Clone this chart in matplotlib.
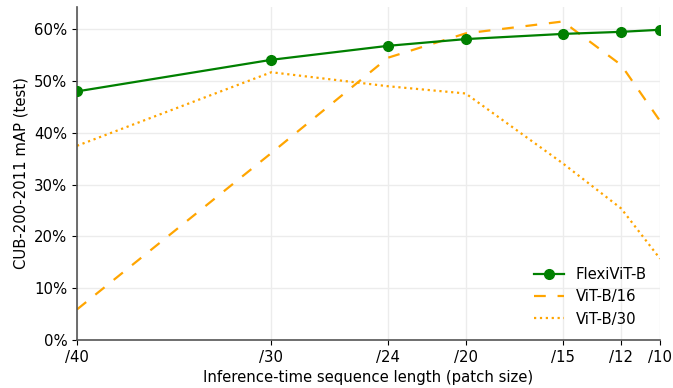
import matplotlib.pyplot as plt
from matplotlib.ticker import PercentFormatter

plt.rcParams['font.size'] = 10.7

# patch sizes at inference time
patch_sizes = [40, 30, 24, 20, 15, 12, 10]
tick_labels = ['/40', '/30', '/24', '/20', '/15', '/12', '/10']

# mAP (%) on CUB-200-2011
flexivit_b = [48.0, 54.1, 56.8, 58.1, 59.1, 59.5, 59.9]
vit_b16 = [5.9, 36.1, 54.5, 59.2, 61.5, 53.1, 42.3]
vit_b30 = [37.5, 51.7, 49.0, 47.6, 34.1, 25.4, 15.7]

fig = plt.figure(figsize=(6.73, 3.88), dpi=100)
ax = fig.add_axes([0.1144, 0.1237, 0.8663, 0.8583])

ax.plot(patch_sizes, flexivit_b, color='green', marker='o', markersize=7,
        linewidth=1.6, label='FlexiViT-B', zorder=3)
ax.plot(patch_sizes, vit_b16, color='orange', linestyle='--', dashes=(5.3, 5.3),
        linewidth=1.6, label='ViT-B/16')
ax.plot(patch_sizes, vit_b30, color='orange', linestyle=':', linewidth=1.6,
        label='ViT-B/30')

ax.set_xlim(40, 10)
ax.set_ylim(0, 64.3)
ax.set_xticks(patch_sizes)
ax.set_xticklabels(tick_labels)
ax.set_yticks(range(0, 61, 10))
ax.yaxis.set_major_formatter(PercentFormatter(decimals=0))

ax.set_xlabel('Inference-time sequence length (patch size)')
ax.set_ylabel('CUB-200-2011 mAP (test)')

ax.grid(True, color='#ececec', linewidth=1)
ax.set_axisbelow(True)
for side in ['top', 'right']:
    ax.spines[side].set_visible(False)
for side in ['left', 'bottom']:
    ax.spines[side].set_color('#555555')
    ax.spines[side].set_linewidth(1.2)

ax.legend(loc='lower right', frameon=False)

plt.savefig('out.png', dpi=100)
